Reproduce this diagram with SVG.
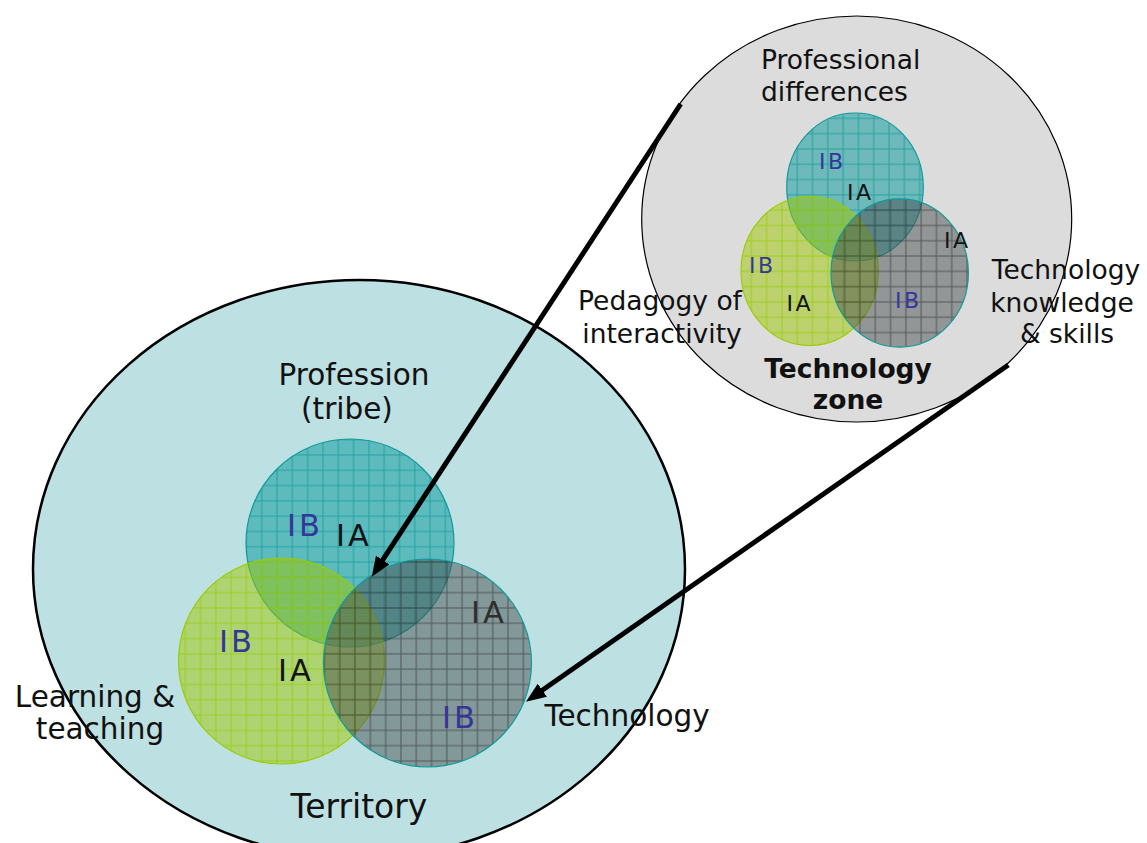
<svg xmlns="http://www.w3.org/2000/svg" width="1147" height="843" viewBox="0 0 1147 843">
  <defs>
    <style>
      text { font-family: "DejaVu Sans", Verdana, sans-serif; fill: #111; }
      .lab { font-size: 29.5px; text-anchor: middle; }
      .lab-s { font-size: 26.5px; }
      .mid { text-anchor: middle; }
      .bold { font-weight: bold; }
      .code { font-size: 30.5px; letter-spacing: 3px; }
      .code-s { font-size: 22px; letter-spacing: 2.5px; }
      .ia { fill: #141414; }
      .ia-dark { fill: #2e2e2e; }
      .ib { fill: #35359a; }
      .teal-fill { fill: #009697; fill-opacity: 0.5; }
      .green-fill { fill: #9dc800; fill-opacity: 0.5; }
      .gray-fill { fill: #4a4f4f; fill-opacity: 0.5; }
      .teal-grid { fill: url(#gridTeal); stroke: #129a9b; stroke-width: 1.2; }
      .green-grid { fill: url(#gridGreen); stroke: #9acc00; stroke-width: 1.2; }
      .gray-grid { fill: url(#gridGray); stroke: #129a9b; stroke-width: 1.2; }
      .arrow { stroke: #000; stroke-width: 5; fill: none; marker-end: url(#head); }
    </style>
    <pattern id="gridTeal" width="15.3" height="15.3" patternUnits="userSpaceOnUse" x="-6" y="3.6">
      <path d="M7.65,0V15.3M0,7.65H15.3" stroke="#139a9b" stroke-width="1" stroke-opacity="0.8"/>
    </pattern>
    <pattern id="gridGreen" width="15.3" height="15.3" patternUnits="userSpaceOnUse" x="-6" y="3.6">
      <path d="M7.65,0V15.3M0,7.65H15.3" stroke="#98cc10" stroke-width="1" stroke-opacity="0.85"/>
    </pattern>
    <pattern id="gridGray" width="15.3" height="15.3" patternUnits="userSpaceOnUse" x="-4.5" y="3.6">
      <path d="M7.65,0V15.3M0,7.65H15.3" stroke="#2a2a2a" stroke-width="1" stroke-opacity="0.6"/>
    </pattern>
    <marker id="head" viewBox="0 0 20 16" refX="8" refY="8" markerWidth="20" markerHeight="16" markerUnits="userSpaceOnUse" orient="auto">
      <path d="M0,0 L20,8 L0,16 z" fill="#000"/>
    </marker>
  </defs>

  <rect width="1147" height="843" fill="#fff"/>

  <!-- Territory with its three overlapping domains -->
  <g id="territory">
    <ellipse cx="359" cy="569" rx="326" ry="289" fill="#bde0e3" stroke="#000" stroke-width="2.5"/>
    <text class="lab" x="359" y="818" style="font-size:33px">Territory</text>
  </g>

  <g id="profession">
    <circle class="teal-fill" cx="350" cy="543" r="104"/>
    <circle class="teal-grid" cx="350" cy="543" r="104"/>
  </g>
  <g id="learning-teaching">
    <circle class="green-fill" cx="281.5" cy="661" r="103"/>
    <circle class="green-grid" cx="281.5" cy="661" r="103"/>
  </g>
  <g id="technology">
    <circle class="gray-fill" cx="427.5" cy="663" r="104"/>
    <circle class="gray-grid" cx="427.5" cy="663" r="104"/>
  </g>

  <g id="territory-labels">
    <text class="lab" x="354" y="385">Profession</text>
    <text class="lab" x="347" y="419">(tribe)</text>
    <text class="lab" x="95" y="707">Learning &amp;</text>
    <text class="lab" x="100" y="739">teaching</text>
    <text class="lab" x="627" y="726">Technology</text>
    <text class="code ib" x="287" y="536">IB</text>
    <text class="code ia" x="336" y="546">IA</text>
    <text class="code ib" x="219" y="652">IB</text>
    <text class="code ia" x="278" y="681">IA</text>
    <text class="code ia-dark" x="471" y="623">IA</text>
    <text class="code ib" x="442" y="728">IB</text>
  </g>

  <!-- Technology zone -->
  <g id="technology-zone">
    <ellipse cx="856.7" cy="219" rx="215" ry="203" fill="#dcdcdc" stroke="#000" stroke-width="1.2"/>
    <text class="lab-s mid bold" x="848" y="378">Technology</text>
    <text class="lab-s mid bold" x="848" y="409">zone</text>
  </g>

  <g id="professional-differences">
    <ellipse class="teal-fill" cx="855" cy="187" rx="68.3" ry="74"/>
    <ellipse class="teal-grid" cx="855" cy="187" rx="68.3" ry="74"/>
  </g>
  <g id="pedagogy-of-interactivity">
    <ellipse class="green-fill" cx="809.7" cy="271" rx="68.7" ry="74.5"/>
    <ellipse class="green-grid" cx="809.7" cy="271" rx="68.7" ry="74.5"/>
  </g>
  <g id="technology-knowledge">
    <ellipse class="gray-fill" cx="899.7" cy="273" rx="68.7" ry="74.2"/>
    <ellipse class="gray-grid" cx="899.7" cy="273" rx="68.7" ry="74.2"/>
  </g>

  <g id="zone-labels">
    <text class="lab-s" x="761" y="69">Professional</text>
    <text class="lab-s" x="761" y="101">differences</text>
    <text class="lab-s mid" x="660" y="310">Pedagogy of</text>
    <text class="lab-s mid" x="662" y="343">interactivity</text>
    <text class="lab-s mid" x="1066" y="279">Technology</text>
    <text class="lab-s mid" x="1062" y="312">knowledge</text>
    <text class="lab-s mid" x="1067" y="343">&amp; skills</text>
    <text class="code-s ib" x="819" y="169">IB</text>
    <text class="code-s ia" x="847" y="200">IA</text>
    <text class="code-s ia" x="944" y="248">IA</text>
    <text class="code-s ib" x="749" y="273">IB</text>
    <text class="code-s ia" x="786.5" y="311">IA</text>
    <text class="code-s ib" x="895" y="308">IB</text>
  </g>

  <!-- Connectors -->
  <g id="connectors">
    <line class="arrow" x1="680.7" y1="104" x2="378.3" y2="566.7"/>
    <line class="arrow" x1="1008.3" y1="365" x2="535.8" y2="694.8"/>
  </g>
</svg>
